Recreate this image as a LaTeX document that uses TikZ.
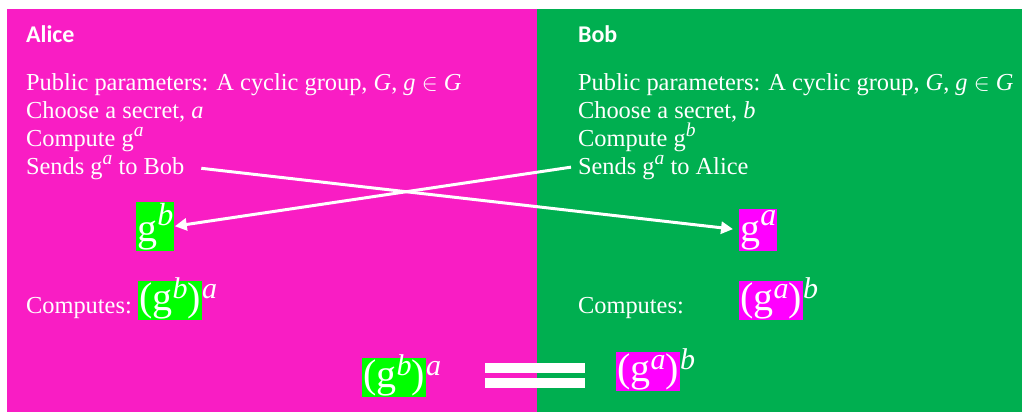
\documentclass[tikz,border=0pt]{standalone}
\usepackage{fontspec}
\setmainfont{Liberation Serif}
\newfontfamily\headfont{Carlito}
\usetikzlibrary{arrows.meta}
\definecolor{alicebg}{RGB}{249,29,196}
\definecolor{bobbg}{RGB}{0,175,80}
\definecolor{hlgreen}{RGB}{0,255,0}
\definecolor{hlpink}{RGB}{255,0,255}
\newcommand{\sups}[1]{\raisebox{0.4em}{\scalebox{0.8}{\itshape #1}}}
\newcommand{\esups}[1]{\raisebox{0.3em}{\scalebox{0.75}{\itshape #1}}}
\newcommand{\isups}[1]{\smash{\esups{#1}}}
\setlength{\fboxsep}{0.5pt}

\begin{document}
\begin{tikzpicture}[x=0.5pt, y=-0.5pt, font=\fontsize{12.2}{14}\selectfont, text=white,
		head/.style={anchor=base west, font=\headfont\bfseries\fontsize{12}{14}\selectfont},
		txt/.style={anchor=base west},
		expr/.style={anchor=base west, inner sep=0pt, font=\fontsize{20}{22}\selectfont},
		send/.style={draw=white, line width=1.5pt, -{Triangle[length=6pt, width=6pt]}}]
		\useasboundingbox (0,0) rectangle (1022,412);
		% the two halves
		\fill[alicebg] (7,9) rectangle (537,412);
		\fill[bobbg] (537,9) rectangle (1022,412);
		\node[head] (alice) at (19,42) {Alice};
		\node[head] (bob) at (571,42) {Bob};
		% steps on each side: row / baseline / Alice / Bob
		\foreach \n/\y/\la/\lb in {1/90/{Public parameters: A cyclic group, \textit{G}, \textit{g} $\in$ \textit{G}}/{Public parameters: A cyclic group, \textit{G}, \textit{g} $\in$ \textit{G}},
			2/118/{Choose a secret, \textit{a}}/{Choose a secret, \textit{b}},
			3/146/{Compute g\sups{a}}/{Compute g\sups{b}},
			4/174/{Sends g\sups{a} to Bob}/{Sends g\sups{a} to Alice}} {
			\node[txt] (a\n) at (19,\y) {\la};
			\node[txt] (b\n) at (571,\y) {\lb};
		}
		% received values
		\node[expr] (gb) at (136,241) {\colorbox{hlgreen}{g\sups{b}}};
		\node[expr] (ga) at (739,241) {\colorbox{hlpink}{g\sups{a}}};
		\draw[send, shorten <=5pt, shorten >=3pt] (a4.east) -- (ga.west);
		\draw[send] (b4.west) -- (gb.east);
		% shared key
		\node[txt] (compa) at (19,313) {Computes:};
		\node[txt] (compb) at (571,313) {Computes:};
		\node[expr] (keya) at (138,310) {\colorbox{hlgreen}{(g\isups{b})}\esups{a}};
		\node[expr] (keyb) at (739,310) {\colorbox{hlpink}{(g\isups{a})}\esups{b}};
		\node[expr] (lhs) at (362,387) {\colorbox{hlgreen}{(g\isups{b})}\esups{a}};
		\node[expr] (rhs) at (616,381) {\colorbox{hlpink}{(g\isups{a})}\esups{b}};
		\fill[white] (485,363) rectangle (585,373);
		\fill[white] (485,378) rectangle (585,388);
	\end{tikzpicture}
\end{document}
